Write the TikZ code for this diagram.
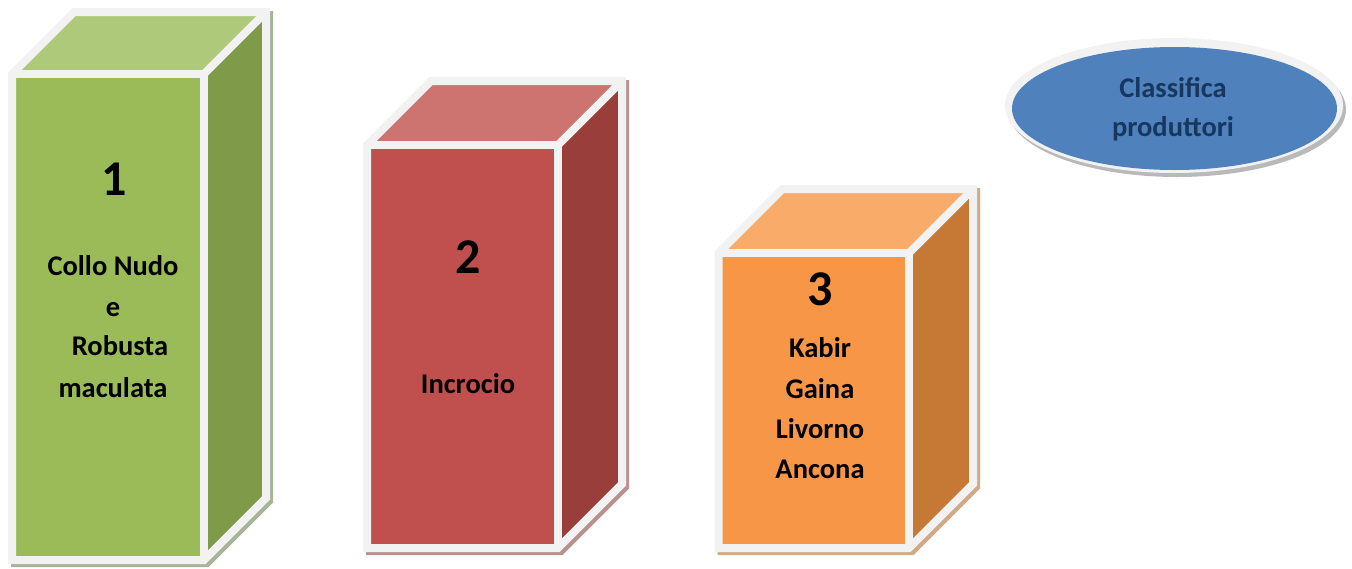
\documentclass[tikz,border=0pt]{standalone}
\usepackage{fontspec}
\setmainfont{Carlito}
\definecolor{rim}{HTML}{F2F2F2}
\definecolor{gF}{HTML}{9BBB59}
\definecolor{gT}{HTML}{AFC97A}
\definecolor{gS}{HTML}{7F9A48}
\definecolor{gH}{HTML}{A8B498}
\definecolor{rF}{HTML}{C0504D}
\definecolor{rT}{HTML}{CD7370}
\definecolor{rS}{HTML}{9A3E3C}
\definecolor{rH}{HTML}{B89190}
\definecolor{oF}{HTML}{F79646}
\definecolor{oT}{HTML}{F9AB69}
\definecolor{oS}{HTML}{C57935}
\definecolor{oH}{HTML}{D1AA88}
\definecolor{bF}{HTML}{4F81BD}
\definecolor{navy}{HTML}{17375E}
\newcommand\mycuboid[9]{%
  % #1 L, #2 T, #3 R, #4 B, #5 depth, #6 front, #7 top, #8 side, #9 shadow
  \draw[draw=#9,fill=#9,line width=8pt,line join=miter,shift={(3,3)}]
    (#1,#4) -- (#1,#2) -- ({#1+#5},{#2-#5}) -- ({#3+#5},{#2-#5}) -- ({#3+#5},{#4-#5}) -- (#3,#4) -- cycle;
  \fill[#6] (#1,#2) rectangle (#3,#4);
  \fill[#7] (#1,#2) -- ({#1+#5},{#2-#5}) -- ({#3+#5},{#2-#5}) -- (#3,#2) -- cycle;
  \fill[#8] (#3,#2) -- ({#3+#5},{#2-#5}) -- ({#3+#5},{#4-#5}) -- (#3,#4) -- cycle;
  \draw[edge] (#1,#4) -- (#1,#2) -- ({#1+#5},{#2-#5}) -- ({#3+#5},{#2-#5}) -- ({#3+#5},{#4-#5}) -- (#3,#4) -- cycle;
  \draw[edge] (#1,#2) -- (#3,#2) -- (#3,#4);
  \draw[edge] (#3,#2) -- ({#3+#5},{#2-#5});
}
\begin{document}
\begin{tikzpicture}[x=1pt,y=-1pt,
  edge/.style={draw=rim,line width=8pt,line join=miter},
  lbl/.style={font=\fontsize{28.5}{34}\selectfont\bfseries,anchor=base,inner sep=0pt},
  num/.style={font=\fontsize{50}{60}\selectfont\bfseries,anchor=base,inner sep=0pt}]
\useasboundingbox (0,0) rectangle (1352,568);
\mycuboid{12}{74}{204}{560}{62}{gF}{gT}{gS}{gH}
\mycuboid{367}{145}{558}{548}{64}{rF}{rT}{rS}{rH}
\mycuboid{718.5}{253}{909}{548}{64}{oF}{oT}{oS}{oH}
% ellipse
\fill[gray!55] (1177,109.5) ellipse [x radius=169, y radius=67.5];
\fill[rim] (1174,105.5) ellipse [x radius=169, y radius=67.5];
\fill[bF] (1174.5,108.5) ellipse [x radius=162.5, y radius=61.5];
% texts
\node[num] (n1) at (114,195) {1};
\node[lbl] (t1a) at (113,275) {Collo Nudo};
\node[lbl] (t1b) at (113,316) {e};
\node[lbl] (t1c) at (120,355) {Robusta};
\node[lbl] (t1d) at (113,397) {maculata};
\node[num] (n2) at (468,273) {2};
\node[lbl] (t2a) at (468,393) {Incrocio};
\node[num] (n3) at (820,305) {3};
\node[lbl] (t3a) at (820,357) {Kabir};
\node[lbl] (t3b) at (820,398) {Gaina};
\node[lbl] (t3c) at (820,438) {Livorno};
\node[lbl] (t3d) at (820,478) {Ancona};
\node[lbl,text=navy] (e1) at (1173,97) {Classifica};
\node[lbl,text=navy] (e2) at (1173,136) {produttori};
\end{tikzpicture}
\end{document}
